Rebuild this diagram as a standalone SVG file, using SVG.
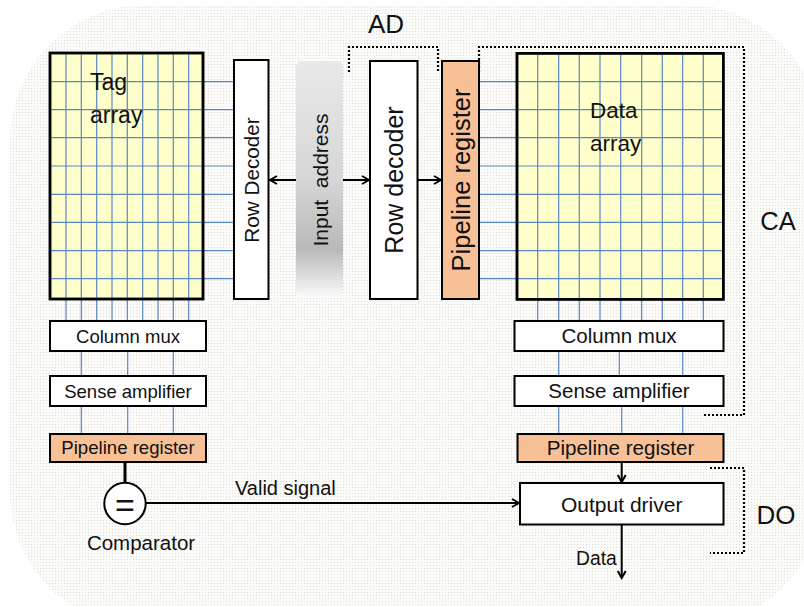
<svg xmlns="http://www.w3.org/2000/svg" width="804" height="607" viewBox="0 0 804 607">
  <style>
    text { font-family: "Liberation Sans", Arial, sans-serif; fill: #111; }
    .box { fill: #ffffff; stroke: #000; stroke-width: 2; }
    .arr { fill: #ffffcc; stroke: #000; stroke-width: 2.5; }
    .reg { fill: #f8c097; stroke: #000; stroke-width: 2; }
    .grid { stroke: #5b86c4; stroke-width: 1.2; fill: none; }
    .wire { stroke: #000; stroke-width: 2; fill: none; }
    .dot { stroke: #000; stroke-width: 2.2; stroke-dasharray: 2 2; fill: none; }
    .mid { text-anchor: middle; }
  </style>
  <defs>
    <pattern id="grain" width="3" height="3" patternUnits="userSpaceOnUse">
      <rect width="3" height="3" fill="#fbfbf9"/>
      <rect x="1" y="1" width="1" height="1" fill="#e0ded3"/>
    </pattern>
    <linearGradient id="addrFill" x1="0" y1="0" x2="0" y2="1">
      <stop offset="0" stop-color="#e9e9e9"/>
      <stop offset="0.5" stop-color="#d6d6d6"/>
      <stop offset="0.8" stop-color="#b9b9b9"/>
      <stop offset="1" stop-color="#fafafa"/>
    </linearGradient>
    <marker id="head" markerWidth="10" markerHeight="10" refX="8" refY="5" orient="auto" markerUnits="userSpaceOnUse">
      <path d="M1,1 L8,5 L1,9" fill="none" stroke="#000" stroke-width="2"/>
    </marker>
  </defs>

  <!-- backdrop panel -->
  <rect x="10" y="5" width="812" height="622" rx="135" ry="135" fill="url(#grain)"/>

  <!-- stage brackets -->
  <g id="brackets">
    <path class="dot" d="M349,72 V47 H438 V72"/>
    <path class="dot" d="M479,72 V47 H744 V415 H704"/>
    <path class="dot" d="M710,468 H744 V553 H710"/>
    <text x="386" y="33" class="mid" font-size="26">AD</text>
    <text x="778" y="230" class="mid" font-size="25.5">CA</text>
    <text x="776" y="524" class="mid" font-size="26">DO</text>
  </g>

  <!-- word lines and bit lines -->
  <g id="connectors">
    <g class="grid">
      <!-- tag array word lines to row decoder -->
      <path d="M203,81.7 H234 M203,109.7 H234 M203,137.7 H234 M203,166 H234 M203,194.3 H234 M203,222.3 H234 M203,250.7 H234 M203,278.7 H234"/>
      <!-- data array word lines from pipeline register -->
      <path d="M477,81.7 H517 M477,109.7 H517 M477,137.7 H517 M477,166 H517 M477,194.3 H517 M477,222.3 H517 M477,250.7 H517 M477,278.7 H517"/>
      <!-- tag bit lines to column mux -->
      <path d="M66,299 V321 M81.3,299 V321 M96.7,299 V321 M112,299 V321 M127.3,299 V321 M142.7,299 V321 M158,299 V321 M173.3,299 V321 M188.7,299 V321"/>
      <!-- data bit lines to column mux -->
      <path d="M537.7,299 V321 M558.7,299 V321 M579.3,299 V321 M600,299 V321 M620.7,299 V321 M641.7,299 V321 M662.3,299 V321 M682.7,299 V321 M703.3,299 V321"/>
      <!-- mux to sense amp to register -->
      <path d="M81.3,351 V376 M127.7,351 V376 M173.3,351 V376 M81.3,406 V434 M127.7,406 V434 M173.3,406 V434"/>
      <path d="M558.7,351 V376 M619.3,351 V376 M682.7,351 V376 M558.7,406 V434 M621.7,406 V434 M682.7,406 V434"/>
    </g>
    <line class="wire" x1="296" y1="180" x2="270" y2="180" marker-end="url(#head)"/>
    <line class="wire" x1="343" y1="180" x2="369" y2="180" marker-end="url(#head)"/>
    <line class="wire" x1="418" y1="180" x2="441" y2="180" marker-end="url(#head)"/>
    <line class="wire" x1="621.7" y1="462" x2="621.7" y2="482" marker-end="url(#head)"/>
    <line class="wire" x1="146" y1="503" x2="519" y2="503" marker-end="url(#head)"/>
    <line class="wire" x1="621.7" y1="525" x2="621.7" y2="578" marker-end="url(#head)"/>
    <line x1="125" y1="462" x2="125" y2="482.5" stroke="#000" stroke-width="3"/>
    <text x="235" y="495" font-size="20">Valid signal</text>
    <text x="576" y="565" font-size="19.3">Data</text>
  </g>

  <!-- tag side -->
  <g id="tag-array">
    <rect class="arr" x="50" y="53" width="153" height="246"/>
    <path class="grid" d="M66,53 V299 M81.3,53 V299 M96.7,53 V299 M112,53 V299 M127.3,53 V299 M142.7,53 V299 M158,53 V299 M173.3,53 V299 M188.7,53 V299"/>
    <path class="grid" d="M50,81.7 H203 M50,109.7 H203 M50,137.7 H203 M50,166 H203 M50,194.3 H203 M50,222.3 H203 M50,250.7 H203 M50,278.7 H203"/>
    <rect x="50" y="53" width="153" height="246" fill="none" stroke="#000" stroke-width="2.5"/>
    <text x="90" y="90" font-size="23">Tag</text>
    <text x="90" y="123" font-size="23">array</text>
  </g>
  <g id="tag-row-decoder">
    <rect class="box" x="234" y="60" width="34.5" height="239"/>
    <text transform="translate(251.5,180) rotate(-90)" x="0" y="7.3" class="mid" font-size="20.7">Row Decoder</text>
  </g>
  <g id="tag-column-mux">
    <rect class="box" x="50" y="321" width="156" height="30"/>
    <text x="128" y="343" class="mid" font-size="18.5">Column mux</text>
  </g>
  <g id="tag-sense-amp">
    <rect class="box" x="50" y="376" width="156" height="30"/>
    <text x="128" y="398" class="mid" font-size="18.5">Sense amplifier</text>
  </g>
  <g id="tag-pipeline-register">
    <rect class="reg" x="50" y="434" width="156" height="28"/>
    <text x="128" y="454" class="mid" font-size="18.6">Pipeline register</text>
  </g>
  <g id="comparator">
    <circle cx="125" cy="503.5" r="20.7" fill="#ffffff" stroke="#000" stroke-width="2"/>
    <text x="125" y="517" class="mid" font-size="34">=</text>
    <text x="141" y="550" class="mid" font-size="20.5">Comparator</text>
  </g>

  <!-- address path -->
  <g id="input-address">
    <rect x="296" y="61" width="47" height="236" rx="6" ry="6" fill="url(#addrFill)"/>
    <text transform="translate(320,180) rotate(-90)" x="0" y="7.5" class="mid" font-size="21" style="white-space:pre">Input  address</text>
  </g>
  <g id="data-row-decoder">
    <rect class="box" x="370" y="61" width="47.5" height="238"/>
    <text transform="translate(394,180) rotate(-90)" x="0" y="9" class="mid" font-size="25">Row decoder</text>
  </g>
  <g id="row-pipeline-register">
    <rect class="reg" x="442" y="61" width="37" height="238"/>
    <text transform="translate(460.5,180) rotate(-90)" x="0" y="9" class="mid" font-size="25.5">Pipeline register</text>
  </g>

  <!-- data side -->
  <g id="data-array">
    <rect class="arr" x="517" y="53.3" width="206.3" height="246"/>
    <path class="grid" d="M537.7,53 V299 M558.7,53 V299 M579.3,53 V299 M600,53 V299 M620.7,53 V299 M641.7,53 V299 M662.3,53 V299 M682.7,53 V299 M703.3,53 V299"/>
    <path class="grid" d="M517,81.7 H723 M517,109.7 H723 M517,137.7 H723 M517,166 H723 M517,194.3 H723 M517,222.3 H723 M517,250.7 H723 M517,278.7 H723"/>
    <rect x="517" y="53.3" width="206.3" height="246" fill="none" stroke="#000" stroke-width="2.5"/>
    <text x="590" y="118" font-size="22.5">Data</text>
    <text x="590" y="151" font-size="22.5">array</text>
  </g>
  <g id="data-column-mux">
    <rect class="box" x="514.5" y="321" width="209" height="30"/>
    <text x="619" y="343" class="mid" font-size="20.5">Column mux</text>
  </g>
  <g id="data-sense-amp">
    <rect class="box" x="514.5" y="376" width="209" height="30"/>
    <text x="619" y="397.5" class="mid" font-size="20.5">Sense amplifier</text>
  </g>
  <g id="data-pipeline-register">
    <rect class="reg" x="517.5" y="434" width="206" height="28"/>
    <text x="620.5" y="455" class="mid" font-size="20.6">Pipeline register</text>
  </g>
  <g id="output-driver">
    <rect class="box" x="520" y="483" width="203.5" height="41.5"/>
    <text x="621.7" y="511.5" class="mid" font-size="21">Output driver</text>
  </g>
</svg>
